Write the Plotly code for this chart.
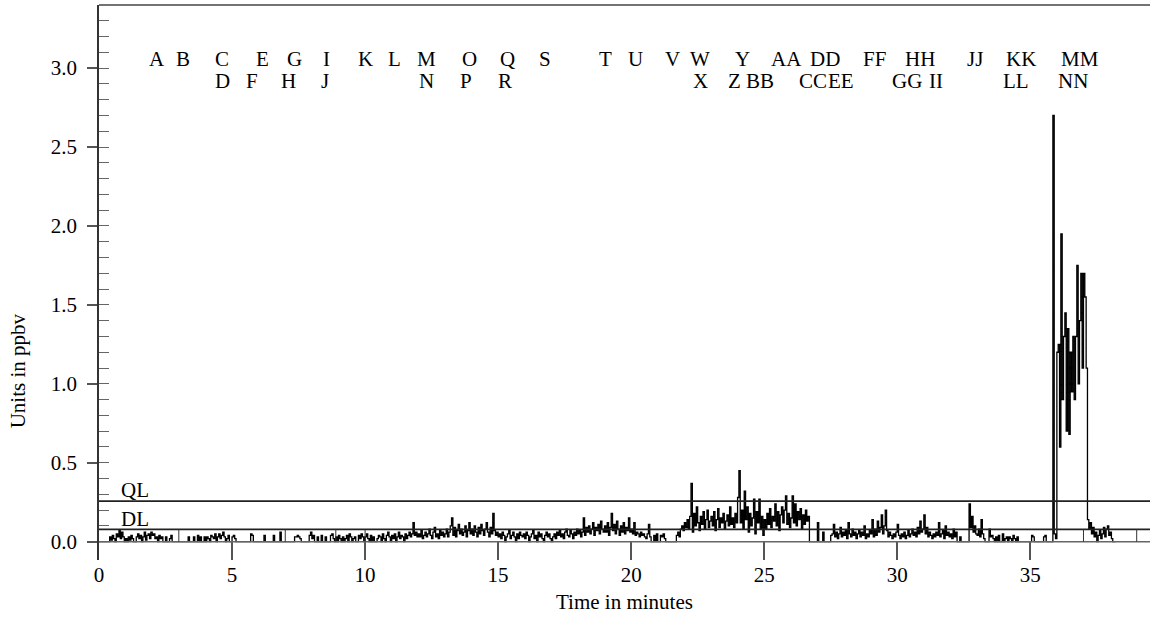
import plotly.graph_objects as go

# ---------------- data (values in hundredths of ppbv, sampled every 0.05 min) ----------------
STEP_MIN = 0.05
sig_00_09 = [
    0,0,0,0,0,0,0,0,3,1,4,2,0,5,3,7,2,6,3,0,
    2,0,3,1,4,2,0,0,3,5,2,4,0,3,6,1,4,5,2,6,
    4,5,2,3,0,4,2,3,0,0,3,0,0,2,4,0,0,0,0,0,
    0,0,0,0,0,0,0,3,0,0,0,3,0,0,4,0,3,0,0,3,
    0,3,2,0,4,3,2,5,0,3,5,2,4,6,3,0,2,4,0,0,
    3,4,2,0,0,0,0,0,0,0,0,0,0,0,5,4,0,0,0,0,
    0,0,0,0,4,0,0,0,0,0,0,4,0,0,0,0,6,0,0,0,
    0,0,0,0,0,0,0,3,3,4,3,2,0,0,0,0,0,0,4,6,
    2,4,0,0,3,0,0,4,0,0,3,0,0,0,4,5,2,0,3,0,
    4,2,0,3,0,2,4,0,5,3,0,2,3,0,0,4,2,5,3,0,
]
sig_10_19 = [
    3,5,2,0,4,0,3,0,0,2,4,3,0,5,2,0,4,6,3,0,
    4,2,5,0,3,6,2,4,3,0,5,2,4,6,3,5,12,4,6,3,
    5,3,7,2,4,6,3,5,8,4,2,6,9,3,5,2,7,4,6,3,
    5,8,3,6,10,15,4,9,3,7,11,5,8,4,6,10,3,7,12,5,
    8,4,10,6,3,9,5,11,7,4,8,12,6,3,9,5,18,7,4,6,
    3,5,2,6,4,0,3,5,7,2,4,6,3,0,5,2,6,4,3,5,
    2,6,4,0,3,5,7,2,4,0,6,3,5,2,0,4,6,3,5,2,
    0,3,5,2,6,4,7,3,5,2,6,8,4,3,7,5,2,6,4,8,
    5,7,3,6,15,4,9,6,10,5,8,12,4,9,7,11,5,13,8,6,
    10,6,12,4,9,18,7,11,5,13,8,4,10,6,12,5,9,7,15,6,
]
sig_20_29 = [
    8,5,12,4,6,5,3,6,4,5,3,2,5,11,3,0,0,4,0,5,
    0,0,4,3,5,2,0,0,0,0,0,0,0,0,4,6,3,8,10,7,
    12,9,14,8,16,37,6,18,10,22,12,7,16,11,19,8,14,20,9,13,
    16,10,19,7,14,21,9,15,12,18,8,13,17,10,22,11,15,9,18,12,
    28,45,12,20,8,32,14,22,6,18,10,15,27,5,19,12,27,8,16,4,
    14,8,18,11,21,9,16,13,24,10,19,7,17,22,12,20,29,11,18,9,
    15,29,12,24,10,19,14,21,8,17,11,20,13,16,0,0,0,0,0,0,
    12,0,0,0,6,0,0,0,0,0,4,5,11,3,6,2,5,9,3,6,
    4,7,2,12,5,3,8,4,6,2,5,7,3,6,4,10,2,5,3,7,
    5,14,3,8,4,13,6,9,17,5,10,20,7,3,6,4,2,5,3,6,
]
sig_30_38 = [
    11,4,2,5,3,6,2,4,7,3,5,8,4,6,3,9,5,13,6,8,
    17,5,9,3,6,4,2,5,3,6,4,12,3,5,7,2,10,4,6,3,
    5,2,8,3,6,0,0,3,0,0,0,0,0,0,24,9,16,6,10,5,
    4,8,3,14,5,2,0,0,0,8,3,4,2,0,3,0,4,0,0,5,
    0,2,3,0,3,2,0,4,2,0,3,0,0,0,0,0,0,0,0,0,
    0,4,3,0,0,0,0,0,0,0,3,4,0,0,0,0,0,270,5,2,
    120,125,60,195,90,130,145,70,135,68,120,95,130,90,130,175,100,140,170,110,
    170,155,110,14,8,12,5,9,3,6,0,4,7,2,5,9,3,8,10,4,
    6,2,0,0,0,
]

QL_LEVEL = 0.257
DL_LEVEL = 0.078
marker_times = [3.0, 7.0, 8.9, 10.0, 37.0, 39.0]

row1_labels = ["A","B","C","E","G","I","K","L","M","O","Q","S","T","U","V","W","Y",
               "AA","DD","FF","HH","JJ","KK","MM"]
row1_times = [2.19,3.15,4.63,6.14,7.35,8.56,10.02,11.11,12.30,13.93,15.37,16.75,19.04,
              20.17,21.55,22.58,24.20,25.83,27.27,29.15,30.85,32.91,34.67,36.86]
row2_labels = ["D","F","H","J","N","P","R","X","Z","BB","CC","EE","GG","II","LL","NN"]
row2_times = [4.63,5.74,7.12,8.48,12.32,13.78,15.24,22.60,23.89,24.83,26.82,27.90,
              30.35,31.47,34.48,36.61]

x_ticks = [0, 5, 10, 15, 20, 25, 30, 35]
y_ticks = [0.0, 0.5, 1.0, 1.5, 2.0, 2.5, 3.0]
y_minor = [round(0.1 * i, 1) for i in range(34)]

X_RANGE = [0, 39.5]
Y_RANGE = [-0.116, 3.4]

# ---------------- figure ----------------
vals_h = sig_00_09 + sig_10_19 + sig_20_29 + sig_30_38
times = [round(i * STEP_MIN, 2) for i in range(len(vals_h))]
values = [v / 100 for v in vals_h]

FONT = "Liberation Serif"
FS = 21

fig = go.Figure()
fig.add_trace(go.Scatter(x=times, y=values, mode="lines",
                         line=dict(color="black", width=1.3, shape="hv"), showlegend=False,
                         hoverinfo="skip"))
# QL / DL limit lines (on overlay axis, which also carries the minor ticks)
for lvl in (QL_LEVEL, DL_LEVEL):
    fig.add_trace(go.Scatter(x=X_RANGE, y=[lvl, lvl], mode="lines", yaxis="y2",
                             line=dict(color="#222222", width=1.6), showlegend=False,
                             hoverinfo="skip"))

shapes = []
# baseline at 0 (drawn above the trace so zero stretches look grey)
shapes.append(dict(type="line", xref="paper", yref="y", x0=0, x1=1, y0=0, y1=0,
                   line=dict(color="#666666", width=1.6), layer="above"))
# top frame
shapes.append(dict(type="line", xref="paper", yref="paper", x0=0, x1=1, y0=1, y1=1,
                   line=dict(color="#444444", width=1.5)))
for t in marker_times:
    shapes.append(dict(type="line", xref="x", yref="y", x0=t, x1=t, y0=0, y1=DL_LEVEL,
                       line=dict(color="#333333", width=1)))

annotations = []
for lab, t in zip(row1_labels, row1_times):
    annotations.append(dict(x=t, y=3.055, xref="x", yref="y", text=lab, showarrow=False,
                            xanchor="center", yanchor="middle",
                            font=dict(family=FONT, size=FS, color="black")))
for lab, t in zip(row2_labels, row2_times):
    annotations.append(dict(x=t, y=2.918, xref="x", yref="y", text=lab, showarrow=False,
                            xanchor="center", yanchor="middle",
                            font=dict(family=FONT, size=FS, color="black")))
annotations.append(dict(x=1.37, y=0.33, xref="x", yref="y", text="QL", showarrow=False,
                        xanchor="center", yanchor="middle",
                        font=dict(family=FONT, size=FS, color="black")))
annotations.append(dict(x=1.37, y=0.145, xref="x", yref="y", text="DL", showarrow=False,
                        xanchor="center", yanchor="middle",
                        font=dict(family=FONT, size=FS, color="black")))
annotations.append(dict(x=0.5, y=-0.076, xref="paper", yref="paper", text="Time in minutes",
                        showarrow=False, xanchor="center", yanchor="middle",
                        font=dict(family=FONT, size=FS, color="black")))
annotations.append(dict(x=-0.077, y=0.34, xref="paper", yref="paper", text="Units in ppbv",
                        showarrow=False, xanchor="center", yanchor="middle", textangle=-90,
                        font=dict(family=FONT, size=FS, color="black")))

fig.update_layout(
    width=1151, height=618,
    margin=dict(l=99, r=1, t=5, b=58, autoexpand=False),
    paper_bgcolor="white", plot_bgcolor="white",
    shapes=shapes, annotations=annotations,
    xaxis=dict(range=X_RANGE, tickvals=x_ticks, ticks="inside", ticklen=18,
               tickcolor="#555555", tickwidth=1.5, showline=False, showgrid=False,
               zeroline=False, automargin=False,
               tickfont=dict(family=FONT, size=FS, color="black")),
    yaxis=dict(range=Y_RANGE, tickvals=y_ticks, ticktext=[f"{v:.1f}" for v in y_ticks],
               ticks="outside", ticklen=10, tickcolor="#555555", tickwidth=1.5,
               showline=True, linecolor="#333333", linewidth=1.5, showgrid=False,
               zeroline=False, ticklabelstandoff=6, automargin=False,
               tickfont=dict(family=FONT, size=FS, color="black")),
    yaxis2=dict(range=Y_RANGE, overlaying="y", side="left", anchor="x",
                tickvals=y_minor, ticks="inside", ticklen=10, tickcolor="#666666",
                tickwidth=1.2, showticklabels=False, showline=False, showgrid=False,
                zeroline=False, automargin=False),
)

fig.write_html("out.html", config={"displayModeBar": False},
               post_script="document.body.style.margin='0';document.body.style.padding='0';")
